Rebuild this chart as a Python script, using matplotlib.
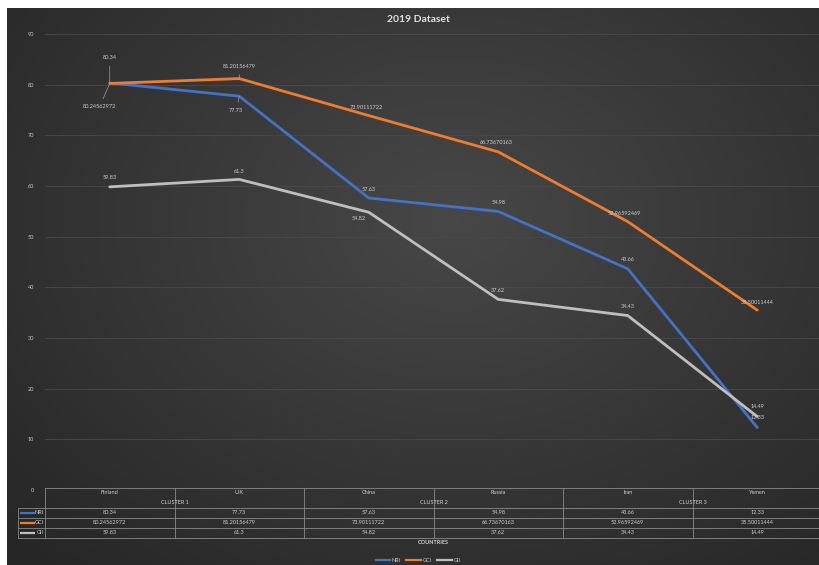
import numpy as np
import matplotlib
matplotlib.use("Agg")
import matplotlib.pyplot as plt
from matplotlib.lines import Line2D

countries = ["Finland", "U.K", "China", "Russia", "Iran", "Yemen"]
clusters = ["CLUSTER 1", "CLUSTER 2", "CLUSTER 3"]
series_names = ["NRI", "GCI", "GII"]
nri = [80.34, 77.73, 57.63, 54.98, 43.66, 12.33]
gci = [80.24562972, 81.20156479, 73.90111722, 66.73670163, 52.96592469, 35.50011444]
gii = [59.83, 61.3, 54.82, 37.62, 34.43, 14.49]
nri_txt = ["80.34", "77.73", "57.63", "54.98", "43.66", "12.33"]
gci_txt = ["80.24562972", "81.20156479", "73.90111722", "66.73670163", "52.96592469", "35.50011444"]
gii_txt = ["59.83", "61.3", "54.82", "37.62", "34.43", "14.49"]
yticks = [0, 10, 20, 30, 40, 50, 60, 70, 80, 90]

colors = {"NRI": "#4472C4", "GCI": "#ED7D31", "GII": "#BFBFBF"}
txtc = "#D0D0D0"
FONT = "Lato"
plt.rcParams["font.family"] = [FONT, "DejaVu Sans"]

W, H = 819, 565
fig = plt.figure(figsize=(W / 100, H / 100), dpi=100, facecolor="white")

# background gradient
bg = fig.add_axes([7 / W, 0, 1 - 7 / W, 1 - 8 / H])
yy, xx = np.mgrid[0:1:300j, 0:1:400j]
r = np.sqrt(((xx - 0.55) / 0.75) ** 2 + ((yy - 0.38) / 0.85) ** 2)
v = np.clip(0.28 - 0.13 * r, 0.15, 0.28)
img = np.dstack([v, v, v])
bg.imshow(img, aspect="auto", extent=[0, 1, 1, 0], interpolation="bilinear")
bg.set_axis_off()

# geometry
left_px, right_px = 45, 822
top_px, bot_px = 34, 490
ax = fig.add_axes([left_px / W, 1 - bot_px / H, (right_px - left_px) / W, (bot_px - top_px) / H])
ax.patch.set_alpha(0)
ax.set_xlim(-0.5, 5.5)
ax.set_ylim(0, 90)
ax.set_yticks(yticks)
ax.set_yticklabels([str(t) for t in yticks], fontsize=4, color=txtc)
ax.tick_params(axis="y", length=0, pad=8)
ax.tick_params(axis="x", length=0, labelbottom=False)
ax.set_xticks([])
for s in ax.spines.values():
    s.set_visible(False)
for t in yticks[1:]:
    ax.axhline(t, color="#4A4A4A", lw=0.6, zorder=0)

x = np.arange(len(countries))
data = {"NRI": (nri, nri_txt), "GCI": (gci, gci_txt), "GII": (gii, gii_txt)}
for name in series_names:
    vals, _ = data[name]
    ax.plot(x, vals, color=colors[name], lw=2.0, solid_capstyle="round", zorder=3)

offsets = {
    "NRI": [(0, 25, True), (-3, -14, True), (0, 9, False), (0, 9, False), (0, 9, False), (0, 10, False)],
    "GCI": [(-10, -23, True), (0, 12, True), (-2, 8, False), (-2, 9, False), (-3, 8, False), (0, 8, False)],
    "GII": [(0, 9, False), (0, 8, False), (-10, -6, False), (0, 9, False), (0, 9, False), (0, 10, False)],
}
for name in series_names:
    vals, labels = data[name]
    for i in range(len(countries)):
        dx, dy, lead = offsets[name][i]
        kw = {}
        if lead:
            kw["arrowprops"] = dict(arrowstyle="-", color="#A0A0A0", lw=0.5, shrinkA=2, shrinkB=0)
        ax.annotate(labels[i], (x[i], vals[i]), xytext=(dx, dy), textcoords="offset pixels",
                    ha="center", va="center", fontsize=4, color=txtc, zorder=5, **kw)

ax.text(-0.5 - 27 / 129.5, 0.5, "SCORE", transform=ax.get_yaxis_transform(), rotation=90,
        ha="center", va="center", fontsize=4, color=txtc, fontweight="bold")

# data table
t_top, t_bot = 488, 538
tab = fig.add_axes([left_px / W, 1 - t_bot / H, (right_px - left_px) / W, (t_bot - t_top) / H], sharex=ax)
tab.patch.set_alpha(0)
tab.set_ylim(5, 0)
tab.set_axis_off()
pxcat = (right_px - left_px) / 6.0
kx0 = -0.5 - 27 / pxcat
lc = "#8A8A8A"
lw = 0.6
tab.plot([-0.5, 5.5], [0, 0], color=lc, lw=lw, clip_on=False)
for yl in [2, 3, 4, 5]:
    tab.plot([kx0, 5.5], [yl, yl], color=lc, lw=lw, clip_on=False)
tab.plot([-0.5, -0.5], [0, 5], color=lc, lw=lw, clip_on=False)
tab.plot([kx0, kx0], [2, 5], color=lc, lw=lw, clip_on=False)
for k in range(5):
    tab.plot([k + 0.5, k + 0.5], [0, 5], color=lc, lw=lw, clip_on=False)
for i, c in enumerate(countries):
    tab.text(i, 0.5, c, ha="center", va="center", fontsize=4, color=txtc)
for j, c in enumerate(clusters):
    tab.text(2 * j + 0.5, 1.5, c, ha="center", va="center", fontsize=4, color=txtc)
for r_i, name in enumerate(series_names):
    _, labels = data[name]
    yrow = 2.5 + r_i
    for i in range(len(countries)):
        tab.text(i, yrow, labels[i], ha="center", va="center", fontsize=4, color=txtc)
    tab.plot([kx0 + 2 / pxcat, kx0 + 17 / pxcat], [yrow, yrow], color=colors[name], lw=1.6,
             clip_on=False, solid_capstyle="butt")
    tab.text(-0.5 - 1 / pxcat, yrow, name, ha="right", va="center", fontsize=4, color=txtc)

fig.text(433 / W, 1 - 542 / H, "COUNTRIES", ha="center", va="center", fontsize=4,
         color=txtc, fontweight="bold")
fig.text(418 / W, 1 - 20 / H, "2019 Dataset", ha="center", va="center", fontsize=7.5,
         color="#E0E0E0", fontweight="bold")

handles = [Line2D([0], [0], color=colors[n], lw=1.6) for n in series_names]
leg = fig.legend(handles, series_names, loc="center", bbox_to_anchor=(418 / W, 1 - 560 / H),
                 ncol=3, frameon=False, fontsize=4, handlelength=2.6, handletextpad=0.3,
                 columnspacing=1.0, labelcolor=txtc)

fig.savefig("out.png", dpi=100, facecolor="white")
